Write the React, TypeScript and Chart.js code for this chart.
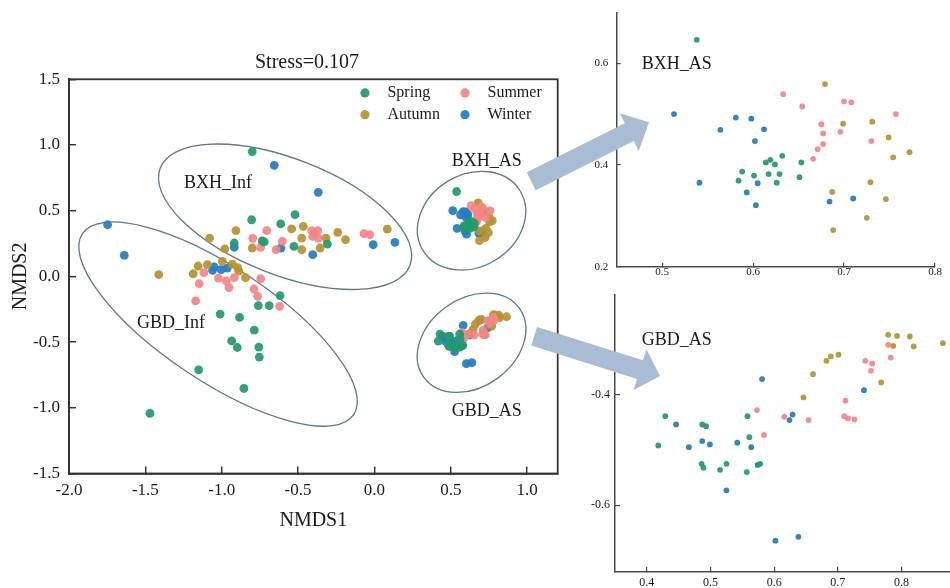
import React, { useEffect, useRef } from 'react';
import { Chart, registerables } from 'chart.js';

Chart.register(...registerables);

// ---------------- DATA ----------------
const seasons = ['Spring', 'Summer', 'Autumn', 'Winter'];

// Infiltration (Inf) samples, main ordination
const springInf = [[-0.80,0.95],[-0.804,0.431],[-0.52,0.47],[-0.614,0.399],[-0.918,0.254],[-0.735,0.27],[-0.722,0.262],[-0.527,0.228],[-0.308,0.246],[-0.618,-0.146],[-0.76,-0.222],[-0.689,-0.222],[-1.01,-0.287],[-0.883,-0.312],[-0.787,-0.409],[-0.935,-0.49],[-0.898,-0.541],[-0.757,-0.538],[-0.754,-0.614],[-1.151,-0.711],[-0.855,-0.853],[-1.47,-1.043]];
const summerInf = [[-0.705,0.348],[-0.411,0.348],[-0.371,0.348],[-0.404,0.304],[-0.367,0.292],[-0.39,0.325],[-0.068,0.325],[-0.03,0.317],[-0.797,0.29],[-0.745,0.221],[-0.644,0.203],[-0.603,0.266],[-1.116,0.028],[-1.022,-0.013],[-0.97,-0.035],[-0.952,-0.085],[-0.918,-0.01],[-1.147,-0.056],[-0.745,-0.018],[-0.788,-0.096],[-0.765,-0.152],[-1.171,-0.186],[-0.621,-0.228]];
const autumnInf = [[-0.907,0.349],[-0.542,0.361],[-0.466,0.381],[-0.24,0.335],[-0.189,0.279],[0.084,0.36],[-1.079,0.292],[-0.98,0.209],[-0.80,0.216],[-0.476,0.292],[-0.476,0.203],[-0.317,0.292],[-0.356,0.216],[-1.412,0.013],[-1.187,0.02],[-1.154,0.079],[-1.094,0.089],[-0.996,0.114],[-0.93,0.093],[-0.895,0.066],[-0.888,0.04],[-0.844,-0.01]];
const winterInf = [[-1.747,0.393],[-1.638,0.16],[-0.656,0.845],[-0.368,0.64],[-0.918,0.222],[-0.612,0.216],[-0.404,0.165],[-0.008,0.241],[0.134,0.259],[-1.05,0.072],[-1.06,0.046],[-1.004,0.051],[-0.964,0.063]];

// BXH_AS samples
const springBxhAs = [[0.538,0.646],[0.632,0.418],[0.614,0.405],[0.619,0.41],[0.624,0.401],[0.653,0.405],[0.588,0.387],[0.584,0.369],[0.601,0.379],[0.617,0.382],[0.629,0.382],[0.626,0.365],[0.651,0.376]];
const summerBxhAs = [[0.633,0.539],[0.654,0.515],[0.675,0.48],[0.677,0.462],[0.677,0.441],[0.671,0.431],[0.666,0.412],[0.7,0.525],[0.708,0.523],[0.696,0.465],[0.757,0.5],[0.73,0.447]];
const autumnBxhAs = [[0.679,0.559],[0.699,0.481],[0.731,0.485],[0.749,0.454],[0.754,0.415],[0.772,0.425],[0.729,0.366],[0.687,0.347],[0.746,0.333],[0.725,0.296],[0.688,0.272]];
const winterBxhAs = [[0.513,0.5],[0.564,0.469],[0.581,0.493],[0.598,0.491],[0.612,0.47],[0.602,0.447],[0.541,0.365],[0.593,0.346],[0.605,0.364],[0.603,0.321],[0.684,0.328],[0.71,0.334]];

// GBD_AS samples
const springGbdAs = [[0.429,-0.439],[0.418,-0.492],[0.487,-0.454],[0.493,-0.457],[0.558,-0.439],[0.561,-0.477],[0.486,-0.525],[0.489,-0.532],[0.515,-0.536],[0.525,-0.525],[0.557,-0.54],[0.578,-0.525]];
const summerGbdAs = [[0.573,-0.428],[0.584,-0.473],[0.616,-0.44],[0.654,-0.446],[0.712,-0.411],[0.71,-0.439],[0.716,-0.443],[0.726,-0.445],[0.743,-0.339],[0.754,-0.344],[0.752,-0.357],[0.779,-0.31],[0.783,-0.333]];
const autumnGbdAs = [[0.646,-0.405],[0.661,-0.363],[0.682,-0.339],[0.689,-0.331],[0.701,-0.328],[0.768,-0.378],[0.779,-0.292],[0.793,-0.294],[0.787,-0.312],[0.813,-0.295],[0.819,-0.313],[0.865,-0.307]];
const winterGbdAs = [[0.446,-0.454],[0.466,-0.495],[0.487,-0.484],[0.499,-0.49],[0.542,-0.487],[0.564,-0.495],[0.574,-0.527],[0.581,-0.372],[0.624,-0.446],[0.629,-0.436],[0.525,-0.573],[0.602,-0.664],[0.638,-0.657],[0.741,-0.392]];

// tick labels
const mainXTicks = [-2.0, -1.5, -1.0, -0.5, 0.0, 0.5, 1.0];
const mainYTicks = [-1.5, -1.0, -0.5, 0.0, 0.5, 1.0, 1.5];
const bxhXTicks = [0.5, 0.6, 0.7, 0.8];
const bxhYTicks = [0.2, 0.4, 0.6];
const gbdXTicks = [0.4, 0.5, 0.6, 0.7, 0.8];
const gbdYTicks = [-0.6, -0.4];

const stressLabel = 'Stress=0.107';
const xTitle = 'NMDS1';
const yTitle = 'NMDS2';

// ---------------- STYLE / LAYOUT ----------------
const FONT = "'Liberation Serif', 'Times New Roman', Times, serif";
const TEXT = '#1a1a1a';
const AXIS = '#333333';
const seasonColors = ['rgba(34,154,108,0.93)', 'rgba(244,133,133,0.93)', 'rgba(184,146,50,0.93)', 'rgba(36,124,194,0.93)'];
const ELLIPSE_COLOR = '#5b7895';
const ARROW_COLOR = '#a8bdd3';

// ellipse annotations (centre in data units, radii in px)
const mainEllipses = [
  { cx: -0.585, cy: 0.454, rx: 134, ry: 58, angle: 21.3 },
  { cx: -1.024, cy: -0.363, rx: 163, ry: 57, angle: 33.7 },
  { cx: 0.636, cy: 0.424, rx: 57, ry: 46, angle: -32 },
  { cx: 0.636, cy: -0.505, rx: 59, ry: 44, angle: -36 },
];
const mainGroupLabels = [
  { text: 'BXH_Inf', x: -1.024, y: 0.711 },
  { text: 'GBD_Inf', x: -1.332, y: -0.355 },
  { text: 'BXH_AS', x: 0.735, y: 0.875 },
  { text: 'GBD_AS', x: 0.735, y: -1.027 },
];
// legend grid (data coords of marker centres)
const legendCols = [-0.062, 0.593];
const legendRows = [1.396, 1.231];

const pts = (a: number[][]) => a.map(([x, y]) => ({ x, y }));

function drawArrow(ctx: CanvasRenderingContext2D, tx: number, ty: number, hx: number, hy: number, shaftW: number, headW: number, headL: number) {
  const dx = hx - tx, dy = hy - ty;
  const L = Math.hypot(dx, dy);
  const ux = dx / L, uy = dy / L, nx = -uy, ny = ux;
  const bx = hx - ux * headL, by = hy - uy * headL;
  ctx.beginPath();
  ctx.moveTo(tx + nx * shaftW / 2, ty + ny * shaftW / 2);
  ctx.lineTo(bx + nx * shaftW / 2, by + ny * shaftW / 2);
  ctx.lineTo(bx + nx * headW / 2, by + ny * headW / 2);
  ctx.lineTo(hx, hy);
  ctx.lineTo(bx - nx * headW / 2, by - ny * headW / 2);
  ctx.lineTo(bx - nx * shaftW / 2, by - ny * shaftW / 2);
  ctx.lineTo(tx - nx * shaftW / 2, ty - ny * shaftW / 2);
  ctx.closePath();
  ctx.fillStyle = ARROW_COLOR;
  ctx.fill();
}

function axisCfg(opts: any) {
  const { min, max, ticksArr, size, tickLen, pad, fit, isX, title, titlePad, color, width } = opts;
  return {
    type: 'linear',
    min,
    max,
    afterBuildTicks: (axis: any) => { axis.ticks = ticksArr.map((value: number) => ({ value })); },
    afterFit: (axis: any) => {
      if (isX) axis.height = fit; else axis.width = fit;
      axis.paddingTop = 0; axis.paddingBottom = 0; axis.paddingLeft = 0; axis.paddingRight = 0;
    },
    grid: { drawOnChartArea: false, drawTicks: true, tickLength: tickLen, color, lineWidth: width * 0.8 },
    border: { display: true, color, width },
    ticks: {
      autoSkip: false,
      maxRotation: 0,
      padding: pad,
      color: TEXT,
      font: { family: FONT, size },
      callback: (v: any) => Number(v).toFixed(1),
    },
    title: title
      ? { display: true, text: title, color: TEXT, font: { family: FONT, size: 20 }, padding: titlePad }
      : { display: false },
  };
}

export default function App() {
  const mainRef = useRef<HTMLCanvasElement>(null);
  const bxhRef = useRef<HTMLCanvasElement>(null);
  const gbdRef = useRef<HTMLCanvasElement>(null);

  useEffect(() => {
    const charts: Chart[] = [];
    const mainSeries = [
      [...springInf, ...springBxhAs, ...springGbdAs],
      [...summerInf, ...summerBxhAs, ...summerGbdAs],
      [...autumnInf, ...autumnBxhAs, ...autumnGbdAs],
      [...winterInf, ...winterBxhAs, ...winterGbdAs],
    ];

    const mainPlugin = {
      id: 'mainDecor',
      beforeDatasetsDraw(chart: any) {
        const { ctx, scales } = chart;
        ctx.save();
        ctx.strokeStyle = ELLIPSE_COLOR;
        ctx.lineWidth = 1.3;
        mainEllipses.forEach((e) => {
          ctx.beginPath();
          ctx.ellipse(scales.x.getPixelForValue(e.cx), scales.y.getPixelForValue(e.cy), e.rx, e.ry, (e.angle * Math.PI) / 180, 0, Math.PI * 2);
          ctx.stroke();
        });
        ctx.restore();
      },
      afterDraw(chart: any) {
        const { ctx, chartArea, scales } = chart;
        ctx.save();
        // frame
        ctx.strokeStyle = AXIS;
        ctx.lineWidth = 1.8;
        ctx.strokeRect(chartArea.left, chartArea.top, chartArea.right - chartArea.left, chartArea.bottom - chartArea.top);
        // title
        ctx.fillStyle = TEXT;
        ctx.textAlign = 'center';
        ctx.textBaseline = 'middle';
        ctx.font = `20px ${FONT}`;
        ctx.fillText(stressLabel, 307, 63);
        // group labels
        ctx.font = `18px ${FONT}`;
        mainGroupLabels.forEach((l) => {
          ctx.fillText(l.text, scales.x.getPixelForValue(l.x), scales.y.getPixelForValue(l.y));
        });
        // legend
        ctx.font = `16px ${FONT}`;
        ctx.textAlign = 'left';
        seasons.forEach((s, i) => {
          const px = scales.x.getPixelForValue(legendCols[i % 2]);
          const py = scales.y.getPixelForValue(legendRows[Math.floor(i / 2)]);
          ctx.beginPath();
          ctx.arc(px, py, 4.6, 0, Math.PI * 2);
          ctx.fillStyle = seasonColors[i];
          ctx.fill();
          ctx.fillStyle = TEXT;
          ctx.fillText(s, px + 22.5, py);
        });
        // arrows to insets
        drawArrow(ctx, 531.2, 181.2, 649, 122.3, 20, 42, 22);
        drawArrow(ctx, 534.2, 336.2, 660, 376, 19.5, 43, 21);
        ctx.restore();
      },
    };

    if (mainRef.current) {
      charts.push(new Chart(mainRef.current, {
        type: 'scatter',
        data: {
          datasets: mainSeries.map((d, i) => ({
            label: seasons[i],
            data: pts(d),
            pointRadius: 4.4,
            pointBackgroundColor: seasonColors[i],
            pointBorderWidth: 0,
            showLine: false,
          })),
        },
        options: {
          animation: false,
          responsive: false,
          layout: { padding: { left: 0, top: 79.3, right: 392.3, bottom: 55 } },
          plugins: { legend: { display: false }, tooltip: { enabled: false }, title: { display: false } },
          scales: {
            x: axisCfg({ min: -2, max: 1.2, ticksArr: mainXTicks, size: 17, tickLen: -7, pad: 14, fit: 59.5, isX: true, title: xTitle, titlePad: { top: 0, bottom: 0 }, color: AXIS, width: 1.8 }),
            y: axisCfg({ min: -1.5, max: 1.5, ticksArr: mainYTicks, size: 17, tickLen: -7, pad: 16, fit: 69, isX: false, title: yTitle, titlePad: { top: 9, bottom: 0 }, color: AXIS, width: 1.8 }),
          },
        } as any,
        plugins: [mainPlugin],
      }));
    }

    const insetLabel = (text: string, x: number, y: number) => ({
      id: 'insetLabel' + text,
      afterDraw(chart: any) {
        const { ctx, scales } = chart;
        ctx.save();
        ctx.fillStyle = TEXT;
        ctx.textAlign = 'center';
        ctx.textBaseline = 'middle';
        ctx.font = `18px ${FONT}`;
        ctx.fillText(text, scales.x.getPixelForValue(x), scales.y.getPixelForValue(y));
        ctx.restore();
      },
    });

    const inset = (canvas: HTMLCanvasElement, series: number[][][], sc: any, padding: any, label: any) =>
      new Chart(canvas, {
        type: 'scatter',
        data: {
          datasets: series.map((d, i) => ({
            label: seasons[i],
            data: pts(d),
            pointRadius: 2.9,
            pointBackgroundColor: seasonColors[i],
            pointBorderWidth: 0,
            showLine: false,
          })),
        },
        options: {
          animation: false,
          responsive: false,
          layout: { padding },
          plugins: { legend: { display: false }, tooltip: { enabled: false } },
          scales: sc,
        } as any,
        plugins: [insetLabel(label.text, label.x, label.y)],
      });

    if (bxhRef.current) {
      charts.push(inset(
        bxhRef.current,
        [springBxhAs, summerBxhAs, autumnBxhAs, winterBxhAs],
        {
          x: axisCfg({ min: 0.45, max: 0.8, ticksArr: bxhXTicks, size: 11, tickLen: -4, pad: 2.4, fit: 20, isX: true, color: '#4a4a4a', width: 1.5 }),
          y: axisCfg({ min: 0.2, max: 0.7, ticksArr: bxhYTicks, size: 11, tickLen: -4, pad: 12.4, fit: 46.7, isX: false, color: '#4a4a4a', width: 1.5 }),
        },
        { left: 0, top: 12.3, right: 15, bottom: 3.3 },
        { text: 'BXH_AS', x: 0.516, y: 0.598 },
      ));
    }
    if (gbdRef.current) {
      charts.push(inset(
        gbdRef.current,
        [springGbdAs, summerGbdAs, autumnGbdAs, winterGbdAs],
        {
          x: axisCfg({ min: 0.35, max: 0.9, ticksArr: gbdXTicks, size: 12, tickLen: -5, pad: 8.8, fit: 15, isX: true, color: '#4a4a4a', width: 1.5 }),
          y: axisCfg({ min: -0.72, max: -0.22, ticksArr: gbdYTicks, size: 12, tickLen: -5, pad: 10, fit: 55, isX: false, color: '#4a4a4a', width: 1.5 }),
        },
        { left: 0, top: 5, right: 14.8, bottom: 1.3 },
        { text: 'GBD_AS', x: 0.447, y: -0.301 },
      ));
    }

    return () => charts.forEach((c) => c.destroy());
  }, []);

  return (
    <div style={{ position: 'fixed', left: 0, top: 0, width: 950, height: 588, overflow: 'hidden', background: '#ffffff' }}>
      <canvas ref={bxhRef} width={380} height={290} style={{ position: 'absolute', left: 570, top: 0, width: 380, height: 290 }} />
      <canvas ref={gbdRef} width={420} height={298} style={{ position: 'absolute', left: 560, top: 290, width: 420, height: 298 }} />
      <canvas ref={mainRef} width={950} height={588} style={{ position: 'absolute', left: 0, top: 0, width: 950, height: 588, zIndex: 2, pointerEvents: 'none' }} />
    </div>
  );
}
